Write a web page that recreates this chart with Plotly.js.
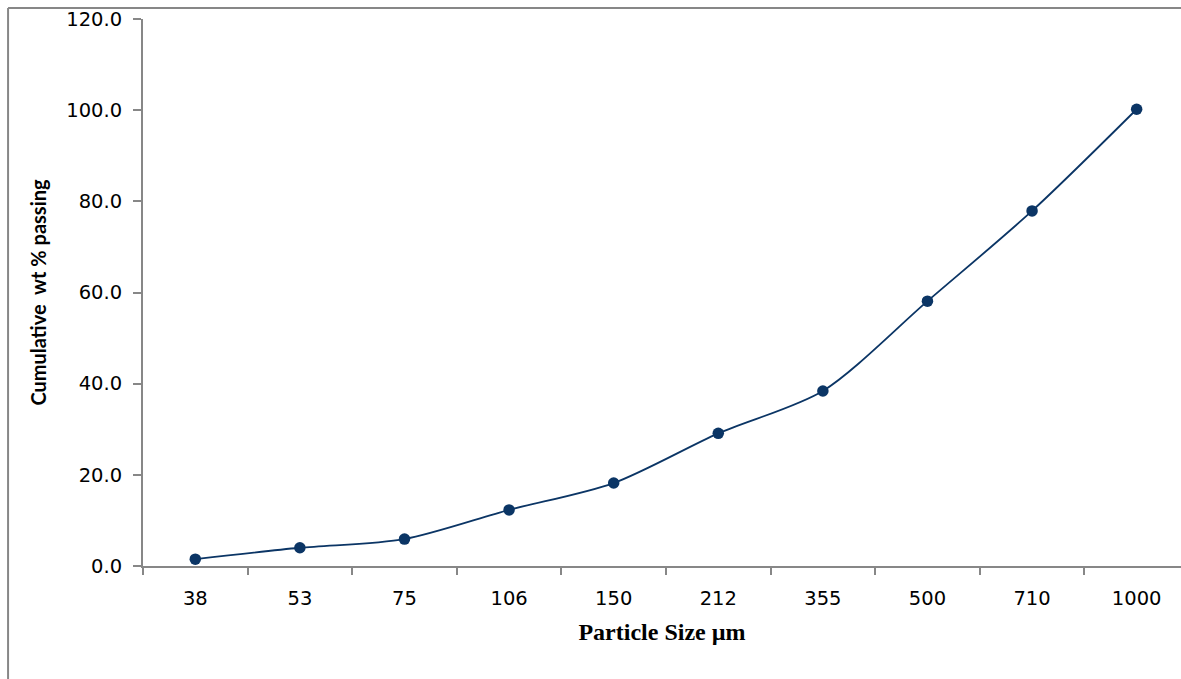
<!DOCTYPE html>
<html>
<head>
<meta charset="utf-8">
<script src="https://cdn.plot.ly/plotly-3.0.1.min.js"></script>
<style>
  html, body { margin: 0; padding: 0; background: #ffffff; }
  #chart { width: 1181px; height: 679px; }
</style>
</head>
<body>
<div id="chart"></div>
<script>
// Data
const particleSizes = ["38", "53", "75", "106", "150", "212", "355", "500", "710", "1000"];
const cumulativePassing = [1.5, 4.0, 5.9, 12.3, 18.2, 29.1, 38.4, 58.1, 77.9, 100.2];
const yTickValues = [0, 20, 40, 60, 80, 100, 120];

const lineColor = "#0B3565";
const axisColor = "#878787";

const trace = {
  type: "scatter",
  mode: "lines+markers",
  x: particleSizes,
  y: cumulativePassing,
  line: { color: lineColor, width: 1.8, shape: "spline", smoothing: 0.8 },
  marker: { color: lineColor, size: 11.5 },
  hoverinfo: "x+y",
  showlegend: false
};

const layout = {
  width: 1181,
  height: 679,
  margin: { l: 143, r: 0, t: 19, b: 113 },
  paper_bgcolor: "#ffffff",
  plot_bgcolor: "#ffffff",
  showlegend: false,
  xaxis: {
    type: "category",
    range: [-0.5, 9.424],
    showgrid: false,
    zeroline: false,
    showline: true,
    linecolor: axisColor,
    linewidth: 2,
    ticks: "outside",
    tickson: "boundaries",
    ticklen: 7,
    tickwidth: 2,
    tickcolor: axisColor,
    ticklabelstandoff: 14,
    tickfont: { family: "DejaVu Sans", size: 19.5, color: "#000000" },
    title: {
      text: "Particle Size µm",
      font: { family: "Liberation Serif", size: 24, color: "#000000", weight: "bold" },
      standoff: 14
    },
    automargin: false,
    fixedrange: true
  },
  yaxis: {
    range: [0, 120],
    tickvals: yTickValues,
    tickformat: ".1f",
    showgrid: false,
    zeroline: false,
    showline: true,
    linecolor: axisColor,
    linewidth: 2,
    ticks: "outside",
    ticklen: 8,
    tickwidth: 2,
    tickcolor: axisColor,
    ticklabelstandoff: 7,
    tickfont: { family: "DejaVu Sans", size: 19.5, color: "#000000" },
    title: {
      text: "Cumulative  wt % passing",
      font: { family: "Lato", size: 20, color: "#000000", weight: "bold" },
      standoff: 14
    },
    automargin: false,
    fixedrange: true
  },
  shapes: [
    { type: "line", xref: "paper", yref: "paper", x0: -0.13, x1: 1.0, y0: 1.0201, y1: 1.0201,
      line: { color: axisColor, width: 2 } },
    { type: "line", xref: "paper", yref: "paper", x0: -0.13, x1: -0.13, y0: 1.0201, y1: -0.21,
      line: { color: axisColor, width: 2 } }
  ]
};

Plotly.newPlot("chart", [trace], layout, { displayModeBar: false, staticPlot: true });
</script>
</body>
</html>
